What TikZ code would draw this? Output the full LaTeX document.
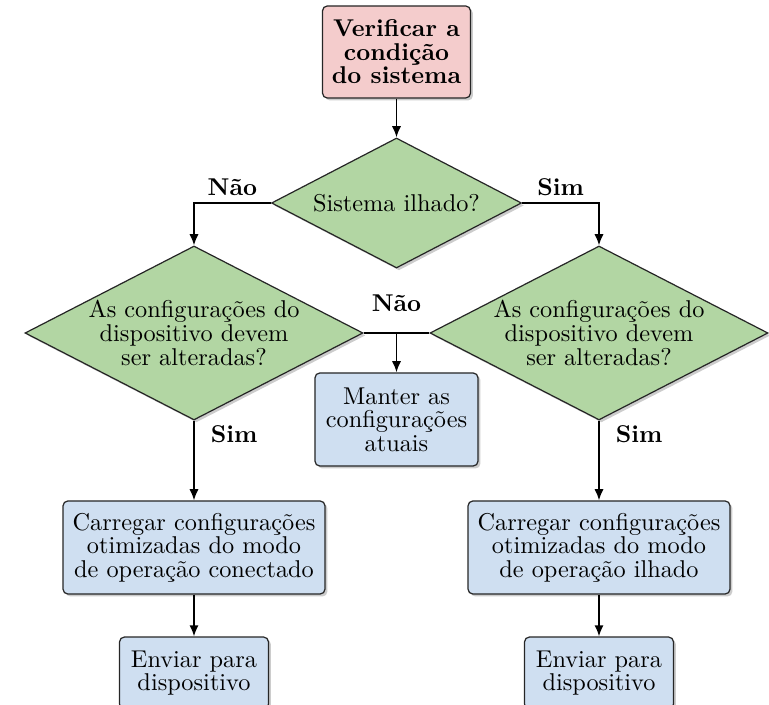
\documentclass[tikz,border=0pt]{standalone}
\usepackage{fontspec}
\usetikzlibrary{shapes.geometric,arrows.meta,shadows}
\definecolor{boxpink}{RGB}{244,204,204}
\definecolor{boxgreen}{RGB}{178,214,163}
\definecolor{boxblue}{RGB}{207,223,241}
\begin{document}
\begin{tikzpicture}[x=0.41152pt,y=-0.41152pt,
  base/.style={draw=black!85, line width=0.5pt,
    drop shadow={shadow xshift=1pt, shadow yshift=-1pt, opacity=0.4}},
  tfont/.style={font=\fontsize{10pt}{9.7pt}\selectfont},
  startbox/.style={base, rectangle, rounded corners=2pt, fill=boxpink, align=center,
    font=\fontsize{10pt}{9.7pt}\selectfont\bfseries, inner sep=0pt,
    minimum width=60.9pt, minimum height=37.9pt},
  procbox/.style={base, rectangle, rounded corners=2pt, fill=boxblue, align=center,
    tfont, inner sep=0pt},
  decbox/.style={base, diamond, fill=boxgreen, inner sep=0pt},
  dectext/.style={align=center, tfont, inner sep=0pt},
  arr/.style={-{Latex[length=4.6pt,width=3.8pt]}, line width=0.7pt},
  plain/.style={line width=0.7pt},
  lbl/.style={font=\bfseries, inner sep=0pt}]
\useasboundingbox (0,0) rectangle (769,705);

% nodes
\node[startbox] (start) at (396.5,52) {Verificar a\\condição\\do sistema};

\node[decbox, minimum width=102.9pt, minimum height=53.5pt] (d1) at (396.5,203) {};
\node[dectext] (d1t) at (d1) {Sistema ilhado?};

\node[decbox, minimum width=139.1pt, minimum height=71.6pt] (d2) at (194,333) {};
\node[dectext] (d2t) at (d2) {As configurações do\\dispositivo devem\\ser alteradas?};

\node[decbox, minimum width=139.1pt, minimum height=71.6pt] (d3) at (599,333) {};
\node[dectext] (d3t) at (d3) {As configurações do\\dispositivo devem\\ser alteradas?};

\node[procbox, minimum width=67.1pt, minimum height=38.3pt] (keep) at (396.5,419.5)
  {Manter as\\configurações\\atuais};

\node[procbox, minimum width=107.8pt, minimum height=38.3pt] (c1) at (194,547.5)
  {Carregar configurações\\otimizadas do modo\\de operação conectado};
\node[procbox, minimum width=107.8pt, minimum height=38.3pt] (c2) at (599,547.5)
  {Carregar configurações\\otimizadas do modo\\de operação ilhado};

\node[procbox, minimum width=61.3pt, minimum height=29.6pt] (e1) at (194,673)
  {Enviar para\\dispositivo};
\node[procbox, minimum width=61.3pt, minimum height=29.6pt] (e2) at (599,673)
  {Enviar para\\dispositivo};

% connectors
\draw[arr] (start) -- (d1);
\draw[arr] (d1.west) -| node[lbl, pos=0.25, above=2.5pt] {Não} (d2.north);
\draw[arr] (d1.east) -| node[lbl, pos=0.25, above=2.5pt] {Sim} (d3.north);
\draw[plain] (d2.east) -- coordinate[midway] (mid) node[lbl, midway, above=8.5pt] {Não} (d3.west);
\draw[arr] (mid) -- (mid |- keep.north);
\draw[arr] (d2.south) -- node[lbl, pos=0.27, anchor=base west, xshift=6.6pt] {Sim} (c1.north);
\draw[arr] (d3.south) -- node[lbl, pos=0.27, anchor=base west, xshift=6.6pt] {Sim} (c2.north);
\draw[arr] (c1) -- (e1);
\draw[arr] (c2) -- (e2);
\end{tikzpicture}
\end{document}
